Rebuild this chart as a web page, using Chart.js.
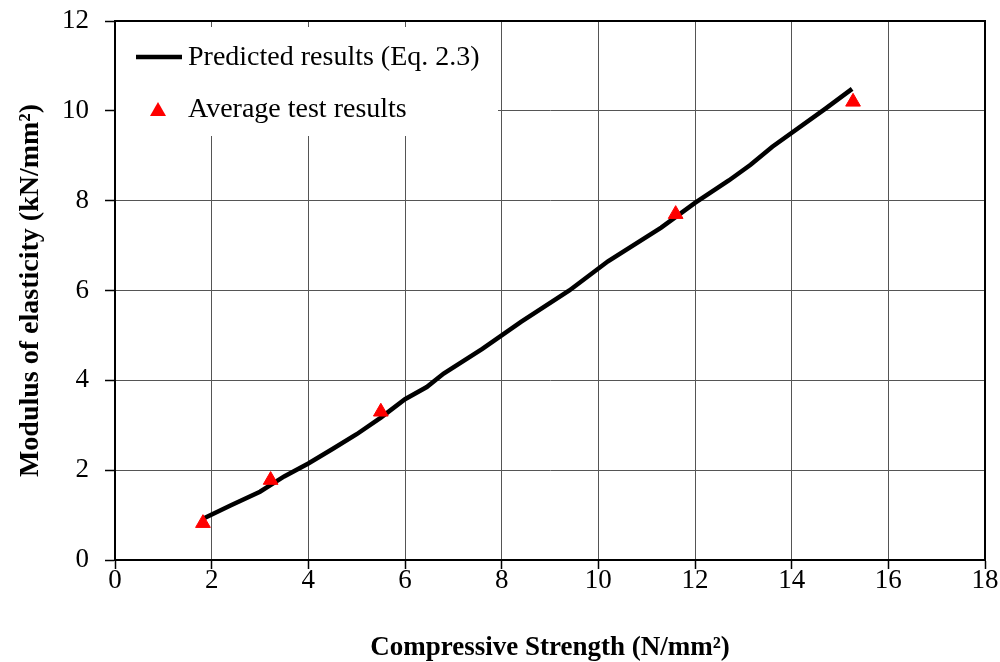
<!DOCTYPE html>
<html>
<head>
<meta charset="utf-8">
<script src="https://cdn.jsdelivr.net/npm/chart.js@4"></script>
<style>
  html, body { margin: 0; padding: 0; background: #fff; }
  #wrap { width: 1000px; height: 662px; }
</style>
</head>
<body>
<div id="wrap"><canvas id="c" width="1000" height="662"></canvas></div>
<script>
// predicted curve (Eq. 2.3)
const predX = [1.82, 2.4, 3.0, 3.5, 4.0, 4.5, 5.0, 5.5, 6.0, 6.45, 6.8, 7.6, 8.4, 9.4, 10.2, 11.3, 12.0, 12.7, 13.15, 13.6, 14.7, 15.25];
const predY = [0.92, 1.22, 1.52, 1.86, 2.15, 2.47, 2.8, 3.17, 3.58, 3.85, 4.15, 4.7, 5.3, 6.0, 6.65, 7.4, 7.95, 8.45, 8.8, 9.2, 10.05, 10.49];
// average test results
const testX = [1.82, 3.22, 5.5, 11.6, 15.27];
const testY = [0.82, 1.78, 3.3, 7.7, 10.2];

const xTicks = [0, 2, 4, 6, 8, 10, 12, 14, 16, 18];
const yTicks = [0, 2, 4, 6, 8, 10, 12];

const serif = "'Liberation Serif', 'Times New Roman', serif";

const toPts = (xs, ys) => xs.map((x, i) => ({ x: x, y: ys[i] }));

// white legend box drawn over the grid, plus frame round the plot
const boxLegend = {
  id: 'boxLegend',
  afterDraw(chart) {
    const ctx = chart.ctx;
    const a = chart.chartArea;
    const ds = chart.data.datasets;
    ctx.save();
    ctx.fillStyle = '#fff';
    ctx.fillRect(a.left + 1, a.top + 6, 382, 109);

    ctx.font = '28px ' + serif;
    ctx.textBaseline = 'middle';
    ctx.fillStyle = '#000';
    // line sample
    ctx.strokeStyle = '#000';
    ctx.lineWidth = 4.5;
    ctx.beginPath();
    ctx.moveTo(a.left + 21, a.top + 36);
    ctx.lineTo(a.left + 67, a.top + 36);
    ctx.stroke();
    ctx.fillText(ds[0].label, a.left + 73, a.top + 37);
    // triangle sample
    ctx.fillStyle = '#ff0000';
    const tx = a.left + 43, ty = a.top + 89;
    ctx.beginPath();
    ctx.moveTo(tx, ty - 8);
    ctx.lineTo(tx + 8, ty + 6);
    ctx.lineTo(tx - 8, ty + 6);
    ctx.closePath();
    ctx.fill();
    ctx.fillStyle = '#000';
    ctx.fillText(ds[1].label, a.left + 73, a.top + 89);

    // frame
    ctx.strokeStyle = '#000';
    ctx.lineWidth = 2;
    ctx.strokeRect(a.left, a.top, a.right - a.left, a.bottom - a.top);
    ctx.restore();
  }
};

new Chart(document.getElementById('c'), {
  type: 'scatter',
  data: {
    datasets: [
      {
        label: 'Predicted results (Eq. 2.3)',
        data: toPts(predX, predY),
        showLine: true,
        borderColor: '#000',
        borderWidth: 4.5,
        pointRadius: 0,
        tension: 0,
        order: 2
      },
      {
        label: 'Average test results',
        data: toPts(testX, testY),
        showLine: false,
        pointStyle: 'triangle',
        pointRadius: 8.5,
        backgroundColor: '#ff0000',
        borderColor: '#ff0000',
        borderWidth: 1,
        order: 1
      }
    ]
  },
  options: {
    responsive: false,
    animation: false,
    layout: { padding: { top: 21, right: 15, left: 0, bottom: 0 } },
    plugins: {
      legend: { display: false },
      tooltip: { enabled: false }
    },
    scales: {
      x: {
        type: 'linear',
        min: 0, max: 18,
        afterBuildTicks: s => { s.ticks = xTicks.map(v => ({ value: v })); },
        afterFit: s => { s.height = 102; s.paddingLeft = 0; s.paddingRight = 0; },
        grid: { color: '#555', lineWidth: 1, borderDash: [1, 1], tickColor: '#000', tickLength: 9, tickWidth: 1.5 },
        border: { color: '#000', width: 2 },
        ticks: { color: '#000', font: { family: serif, size: 27 }, padding: -4, maxRotation: 0 },
        title: { display: true, text: 'Compressive Strength (N/mm²)', color: '#000', font: { family: serif, size: 27, weight: 'bold', lineHeight: 1 }, padding: { top: 0, bottom: 0 } }
      },
      y: {
        type: 'linear',
        min: 0, max: 12,
        afterBuildTicks: s => { s.ticks = yTicks.map(v => ({ value: v })); },
        afterFit: s => { s.width = 115; s.paddingTop = 0; s.paddingBottom = 0; },
        grid: { color: '#555', lineWidth: 1, borderDash: [1, 1], tickColor: '#000', tickLength: 10, tickWidth: 1.5 },
        border: { color: '#000', width: 2 },
        ticks: { color: '#000', font: { family: serif, size: 27 }, padding: 16 },
        title: { display: true, text: 'Modulus of elasticity (kN/mm²)', color: '#000', font: { family: serif, size: 28, weight: 'bold', lineHeight: 1 }, padding: { top: 17, bottom: 0 } }
      }
    }
  },
  plugins: [boxLegend]
});
</script>
</body>
</html>
